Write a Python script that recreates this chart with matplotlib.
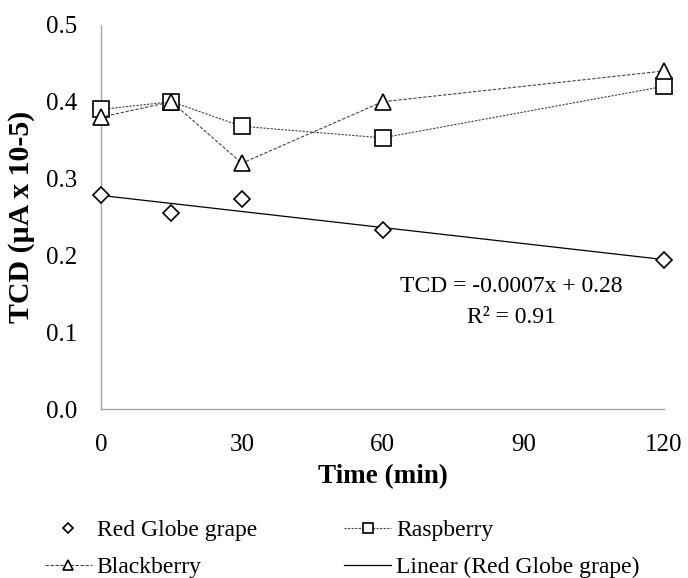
import numpy as np
import matplotlib.pyplot as plt

plt.rcParams['font.family'] = ['Liberation Serif', 'DejaVu Serif']

time = [0, 15, 30, 60, 120]
red_globe = [0.279, 0.255, 0.273, 0.233, 0.194]
raspberry = [0.39, 0.40, 0.368, 0.353, 0.42]
blackberry = [0.38, 0.40, 0.32, 0.40, 0.44]
x_ticks = [0, 30, 60, 90, 120]
y_ticks = [0.0, 0.1, 0.2, 0.3, 0.4, 0.5]

fig = plt.figure(figsize=(6.88, 5.78), dpi=100)
ax = fig.add_axes([0.147, 0.292, 0.818, 0.665])

ax.plot(time, red_globe, ls="none", marker="D", ms=8.5, mfc="white", mec="black",
        mew=1.2, label="Red Globe grape", zorder=4, clip_on=False)
ax.plot(time, raspberry, ls=(0, (2, 1.2)), lw=0.8, c="#444444", marker="s", ms=12,
        mfc="white", mec="black", mew=1.2, label="Raspberry", zorder=3, clip_on=False)
ax.plot(time, blackberry, ls=(0, (3, 1.5)), lw=0.8, c="#444444", marker="^", ms=12,
        mfc="white", mec="black", mew=1.2, label="Blackberry", zorder=3, clip_on=False)

slope, intercept = np.polyfit(time, red_globe, 1)
xx = np.array([time[0], time[-1]])
ax.plot(xx, slope * xx + intercept, c="black", lw=0.9, label="Linear (Red Globe grape)", zorder=2)

ax.text(87.4, 0.159, "TCD = -0.0007x + 0.28", ha="center", va="center", fontsize=17)
ax.text(87.4, 0.119, "R² = 0.91", ha="center", va="center", fontsize=17)

ax.set_xlim(0, 120)
ax.set_ylim(0, 0.5)
ax.set_xticks(x_ticks)
ax.set_xticklabels([str(t) for t in x_ticks], fontsize=18)
ax.set_yticks(y_ticks)
ax.set_yticklabels(["%.1f" % y for y in y_ticks], fontsize=18)
ax.tick_params(axis="x", length=0, pad=18)
ax.tick_params(axis="y", length=0, pad=17)
ax.set_xlabel("Time (min)", fontsize=19.5, fontweight="bold", labelpad=6)
ax.set_ylabel("TCD (µA x 10-5)", fontsize=21.5, fontweight="bold", labelpad=8)

for side in ["top", "right"]:
    ax.spines[side].set_visible(False)
for side in ["left", "bottom"]:
    ax.spines[side].set_color("#a6a6a6")
    ax.spines[side].set_linewidth(1.0)

handles, labels = ax.get_legend_handles_labels()
order = [0, 2, 1, 3]
fig.legend([handles[i] for i in order], [labels[i] for i in order],
           loc="lower left", bbox_to_anchor=(0.065, 0.0), ncol=2, frameon=False,
           fontsize=17, markerscale=0.6, handlelength=2.0, columnspacing=3.7,
           handletextpad=0.2, labelspacing=0.65, borderpad=0, borderaxespad=0)

plt.savefig("out.png", dpi=100)
